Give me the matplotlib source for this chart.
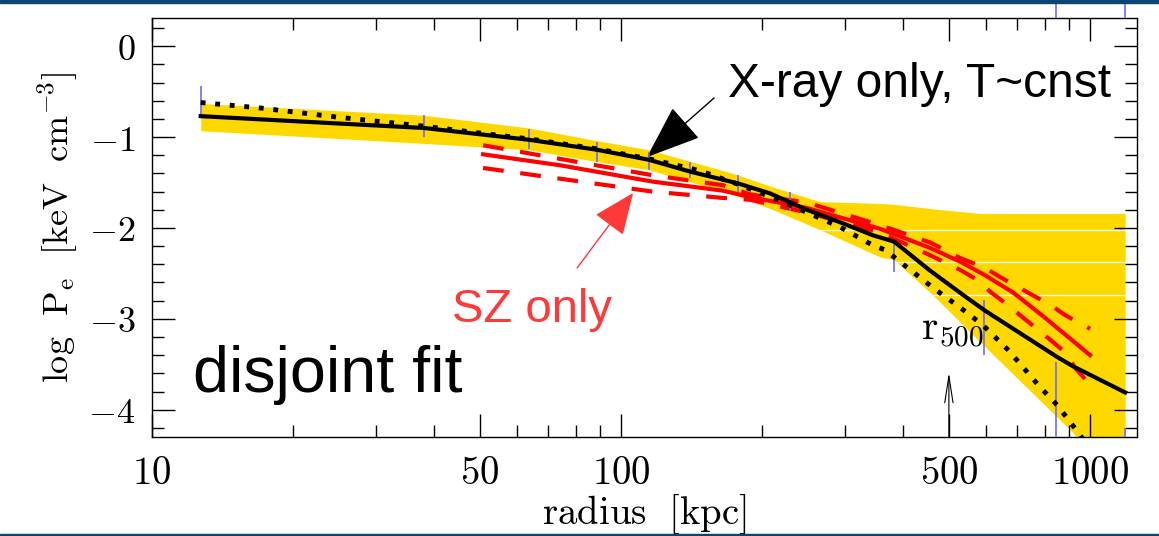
import matplotlib
matplotlib.use("Agg")
import matplotlib.pyplot as plt
import numpy as np
from matplotlib.patches import Rectangle

plt.rcParams["mathtext.fontset"] = "cm"

# X-ray only fit, T ~ const (solid black)
xray_r = [12.7, 24.8, 38.0, 63.7, 88.9, 114.7, 140.4, 177.6, 207.8, 249.0,
          297.4, 344.0, 382.0, 456.0, 547.0, 597.0, 851.0, 918.0, 1188.0]
xray_p = [-0.77, -0.85, -0.90, -1.03, -1.14, -1.25, -1.38, -1.51, -1.62, -1.80,
          -1.95, -2.08, -2.15, -2.47, -2.77, -2.91, -3.42, -3.52, -3.81]

# second X-ray model (dotted black)
dot_r = [12.7, 17.0, 24.8, 38.0, 50.8, 63.7, 88.9, 114.7, 147.3, 177.6, 218.3,
         246.8, 293.0, 344.0, 365.0, 440.0, 486.0, 536.0, 591.0, 668.0, 782.0,
         851.0, 943.0, 976.0]
dot_p = [-0.62, -0.68, -0.78, -0.88, -0.96, -1.02, -1.13, -1.24, -1.37, -1.52,
         -1.70, -1.82, -1.99, -2.19, -2.24, -2.57, -2.74, -2.90, -3.07, -3.34,
         -3.75, -3.95, -4.25, -4.36]

# SZ only fit (red) with upper / lower bounds
sz_r = [50.8, 74.1, 116.7, 165.0, 188.4, 249.0, 357.0, 456.0, 528.0, 597.0, 685.0, 793.6, 1000.0]
sz_p = [-1.19, -1.31, -1.49, -1.59, -1.66, -1.78, -2.01, -2.22, -2.37, -2.52, -2.71, -2.97, -3.40]
szu_r = [50.8, 116.7, 165.0, 188.4, 249.0, 357.0, 456.0, 528.0, 597.0, 643.0, 830.0, 885.0, 1000.0]
szu_p = [-1.09, -1.42, -1.53, -1.63, -1.72, -1.97, -2.16, -2.33, -2.44, -2.54, -2.86, -2.96, -3.11]
szl_r = [50.8, 116.7, 165.0, 188.4, 249.0, 357.0, 456.0, 528.0, 574.0, 612.0, 668.0,
         709.0, 822.0, 885.0, 929.0, 990.0, 1000.0]
szl_p = [-1.34, -1.60, -1.67, -1.69, -1.83, -2.05, -2.30, -2.46, -2.57, -2.70, -2.85,
         -2.96, -3.23, -3.37, -3.54, -3.70, -3.73]

# X-ray uncertainty band (yellow)
band_r = [12.7, 38.0, 63.7, 88.9, 114.7, 173.3, 211.0, 265.5, 357.0, 382.0,
          462.6, 582.0, 906.0, 1188.0]
band_hi = [-0.63, -0.76, -0.90, -1.04, -1.14, -1.40, -1.55, -1.71, -1.73, -1.74,
           -1.79, -1.84, -1.84, -1.84]
band_lo = [-0.93, -1.07, -1.14, -1.27, -1.36, -1.63, -1.80, -2.02, -2.32, -2.35,
           -2.74, -3.25, -4.22, -4.86]
band_gaps = [-2.02, -2.37, -2.74]

# data error bars (blue)
err_r = [12.7, 38.0, 63.7, 88.9, 114.7, 140.4, 177.6, 229.0, 382.0, 594.0, 847.0, 1188.0]
err_hi = [-0.44, -0.76, -0.91, -1.05, -1.16, -1.27, -1.42, -1.60, -2.13, -2.79, -3.47, -4.20]
err_lo = [-0.78, -1.00, -1.13, -1.27, -1.36, -1.45, -1.60, -1.81, -2.48, -3.40, -4.60, -4.60]
err_top_r = [847.0, 1188.0]

x_ticks = [10, 50, 100, 500, 1000]
x_labels = [r"$10$", r"$50$", r"$100$", r"$500$", r"$1000$"]
y_ticks = [-4, -3, -2, -1, 0]
y_labels = [r"$-4$", r"$-3$", r"$-2$", r"$-1$", r"$0$"]

W, H = 1159, 536
fig = plt.figure(figsize=(W / 100, H / 100), dpi=100)
ax = fig.add_axes([152 / W, (H - 437) / H, (1137 - 152) / W, (437 - 18) / H])

ax.fill_between(band_r, band_lo, band_hi, color="#ffd800", lw=0, zorder=1)
for g in band_gaps:
    x0 = np.interp(-g, -np.array(band_lo), band_r)
    ax.plot([x0, band_r[-1]], [g, g], color="white", lw=0.9, zorder=1.5)

ax.vlines(err_r, err_lo, err_hi, color="#6a6aff", lw=1.2, zorder=4)
ax.vlines(err_top_r, 0.31, 0.50, color="#6a6aff", lw=1.2, zorder=4, clip_on=False)

ax.plot(sz_r, sz_p, color="red", lw=3.0, zorder=3)
ax.plot(szu_r, szu_p, color="red", lw=3.0, ls=(0, (5, 4)), zorder=3)
ax.plot(szl_r, szl_p, color="red", lw=3.0, ls=(0, (5, 4)), zorder=3)

ax.plot(xray_r, xray_p, color="black", lw=3.0, zorder=5)
ax.plot(dot_r, dot_p, color="black", lw=3.5, ls=(0, (1, 2)), zorder=5)

ax.set_xscale("log")
ax.set_xlim(10, 1259)
ax.set_ylim(-4.30, 0.31)
ax.set_xticks(x_ticks, x_labels)
ax.xaxis.set_minor_locator(matplotlib.ticker.FixedLocator(
    [20, 30, 40, 60, 70, 80, 90, 200, 300, 400, 600, 700, 800, 900]))
ax.xaxis.set_minor_formatter(matplotlib.ticker.NullFormatter())
ax.set_yticks(y_ticks, y_labels)
ax.yaxis.set_minor_locator(matplotlib.ticker.MultipleLocator(0.2))
ax.tick_params(which="both", direction="in", top=True, right=True, width=1.0)
ax.tick_params(which="major", length=16.5)
ax.tick_params(which="minor", length=8.5)
ax.tick_params(axis="x", pad=12, labelsize=28)
ax.tick_params(axis="y", pad=12, labelsize=26)
for s in ax.spines.values():
    s.set_linewidth(1.0)

ax.set_xlabel(r"$\mathrm{radius\ \ [kpc]}$", fontsize=28, labelpad=1)
ax.set_ylabel(r"$\mathrm{log\ \ P_e\ \ [keV\ \ cm^{-3}]}$", fontsize=26, labelpad=6)

sans = "Liberation Sans"
ax.annotate("", xy=(113.6, -1.22), xytext=(157.9, -0.57),
            arrowprops=dict(arrowstyle="-|>,head_length=2.5,head_width=0.95",
                            mutation_scale=14, color="black", lw=1.0,
                            shrinkA=0, shrinkB=0))
ax.text(169, -0.56, "X-ray only, T~cnst", fontsize=34.5, family=sans,
        color="black", va="baseline", ha="left")

ax.annotate("", xy=(106.1, -1.615), xytext=(80.6, -2.44),
            arrowprops=dict(arrowstyle="-|>,head_length=1.9,head_width=0.8",
                            mutation_scale=14, color="#ff3838", lw=1.0,
                            shrinkA=0, shrinkB=0))
ax.text(43.6, -3.03, "SZ only", fontsize=34, family=sans,
        color="#ff3838", va="baseline", ha="left")

ax.text(12.2, -3.81, "disjoint fit", fontsize=46.5, family=sans,
        color="black", va="baseline", ha="left")

ax.annotate("", xy=(500, -3.59), xytext=(500, -4.30),
            arrowprops=dict(arrowstyle="->,head_length=1.6,head_width=0.25",
                            mutation_scale=12, color="black", lw=0.8,
                            shrinkA=0, shrinkB=0))
ax.text(436, -3.24, r"$\mathrm{r}_{500}$", fontsize=30, color="black",
        va="baseline", ha="left")

fig.patches.append(Rectangle((0, 1 - 3 / H), 1, 3 / H, transform=fig.transFigure,
                             color="#0d4470", zorder=10))
fig.patches.append(Rectangle((0, 0), 1, 2 / H, transform=fig.transFigure,
                             color="#0d4470", zorder=10))

fig.savefig("out.png", dpi=100)
